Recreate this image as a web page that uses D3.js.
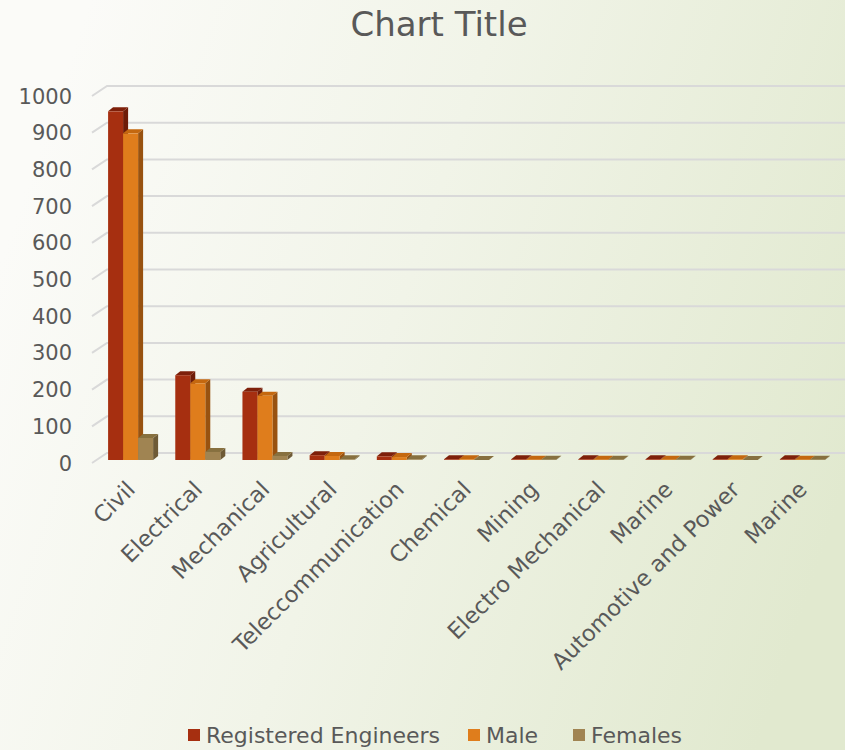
<!DOCTYPE html>
<html>
<head>
<meta charset="utf-8">
<script src="https://cdn.jsdelivr.net/npm/d3@7"></script>
<style>
  body { margin: 0; }
  svg { display: block; font-family: "DejaVu Sans", sans-serif; }
</style>
</head>
<body>
<div id="chart"></div>
<script>
// Data
var categories = ["Civil", "Electrical", "Mechanical", "Agricultural", "Teleccommunication",
    "Chemical", "Mining", "Electro Mechanical", "Marine", "Automotive and Power", "Marine"];
var registered = [950, 231, 186, 13, 10, 2, 2, 2, 2, 2, 2];
var male = [890, 209, 175, 11, 8, 2, 1, 1, 1, 2, 1];
var females = [60, 22, 11, 2, 2, 0, 1, 1, 1, 0, 1];
var seriesNames = ["Registered Engineers", "Male", "Females"];
var yTicks = [0, 100, 200, 300, 400, 500, 600, 700, 800, 900, 1000];

var width = 845, height = 750;
var textColor = "#595959";

// front, top, side colours for each series
var faces = [
    { front: "#a62f10", top: "#7e200a", side: "#6e1c08" },
    { front: "#df7d1c", top: "#c4680f", side: "#985210" },
    { front: "#a08452", top: "#87703f", side: "#6e5a36" }
];

var svg = d3.select("#chart").append("svg")
    .attr("width", width)
    .attr("height", height);

// background gradient
var defs = svg.append("defs");
var grad = defs.append("linearGradient")
    .attr("id", "bg")
    .attr("x1", "0").attr("y1", "0.35")
    .attr("x2", "1").attr("y2", "0.65");
grad.append("stop").attr("offset", "0").attr("stop-color", "#fbfbf8");
grad.append("stop").attr("offset", "0.45").attr("stop-color", "#f1f4e8");
grad.append("stop").attr("offset", "1").attr("stop-color", "#e1e9cf");
svg.append("rect").attr("width", width).attr("height", height).attr("fill", "url(#bg)");

// 3D depth of the floor and of each bar
var depth = { dx: 15, dy: -10 };
var barShift = { dx: 4, dy: -3 };
var barDepth = { dx: 5, dy: -4 };

var x0 = 92, x1 = 833;
var x = d3.scaleBand()
    .domain(d3.range(categories.length))
    .range([x0, x1])
    .paddingInner(0.33)
    .paddingOuter(0.18);

var xs = d3.scaleBand()
    .domain(d3.range(seriesNames.length))
    .range([0, x.bandwidth()]);

var y = d3.scaleLinear()
    .domain([0, 1000])
    .range([463, 96]);

// title
svg.append("text")
    .attr("x", 439)
    .attr("y", 36)
    .attr("text-anchor", "middle")
    .attr("font-size", "34px")
    .attr("fill", textColor)
    .text("Chart Title");

// gridlines: along the side wall then across the back wall
svg.append("g").selectAll("polyline")
    .data(yTicks)
    .join("polyline")
    .attr("points", function (d) {
        var yy = y(d);
        return [[x0, yy], [x0 + depth.dx, yy + depth.dy], [width + 5, yy + depth.dy]].join(" ");
    })
    .attr("fill", "none")
    .attr("stroke", "#d9d9d9")
    .attr("stroke-width", 2);

// y tick labels
svg.append("g").selectAll("text")
    .data(yTicks)
    .join("text")
    .attr("x", 72)
    .attr("y", function (d) { return y(d); })
    .attr("dy", "0.36em")
    .attr("text-anchor", "end")
    .attr("font-size", "21px")
    .attr("fill", textColor)
    .text(function (d) { return d; });

// bars
var rows = categories.map(function (c, i) {
    return [registered[i], male[i], females[i]];
});

var bars = svg.append("g");
rows.forEach(function (vals, i) {
    vals.forEach(function (v, s) {
        var left = x(i) + xs(s) + barShift.dx;
        var right = left + xs.bandwidth();
        var base = y(0) + barShift.dy;
        var top = y(v) + barShift.dy;
        var c = faces[s];
        // side face
        bars.append("polygon")
            .attr("points", [[right, base], [right + barDepth.dx, base + barDepth.dy],
                [right + barDepth.dx, top + barDepth.dy], [right, top]].join(" "))
            .attr("fill", c.side);
        // top face
        bars.append("polygon")
            .attr("points", [[left, top], [left + barDepth.dx, top + barDepth.dy],
                [right + barDepth.dx, top + barDepth.dy], [right, top]].join(" "))
            .attr("fill", c.top);
        // front face
        bars.append("rect")
            .attr("x", left)
            .attr("y", top)
            .attr("width", xs.bandwidth())
            .attr("height", Math.max(0, base - top))
            .attr("fill", c.front);
    });
});

// category labels, rotated
svg.append("g").selectAll("text")
    .data(categories)
    .join("text")
    .attr("transform", function (d, i) {
        var cx = x(i) + x.bandwidth() / 2 + barShift.dx;
        return "translate(" + [cx - 6, 479] + ") rotate(-45)";
    })
    .attr("dy", "0.75em")
    .attr("text-anchor", "end")
    .attr("font-size", "22.5px")
    .attr("fill", textColor)
    .text(function (d) { return d; });

// legend
var legendX = [188, 468, 573];
var legend = svg.append("g").selectAll("g")
    .data(seriesNames)
    .join("g")
    .attr("transform", function (d, i) { return "translate(" + [legendX[i], 729] + ")"; });
legend.append("rect")
    .attr("width", 12)
    .attr("height", 12)
    .attr("fill", function (d, i) { return faces[i].front; });
legend.append("text")
    .attr("x", 18)
    .attr("y", 6)
    .attr("dy", "0.36em")
    .attr("font-size", "22px")
    .attr("fill", textColor)
    .text(function (d) { return d; });
</script>
</body>
</html>
